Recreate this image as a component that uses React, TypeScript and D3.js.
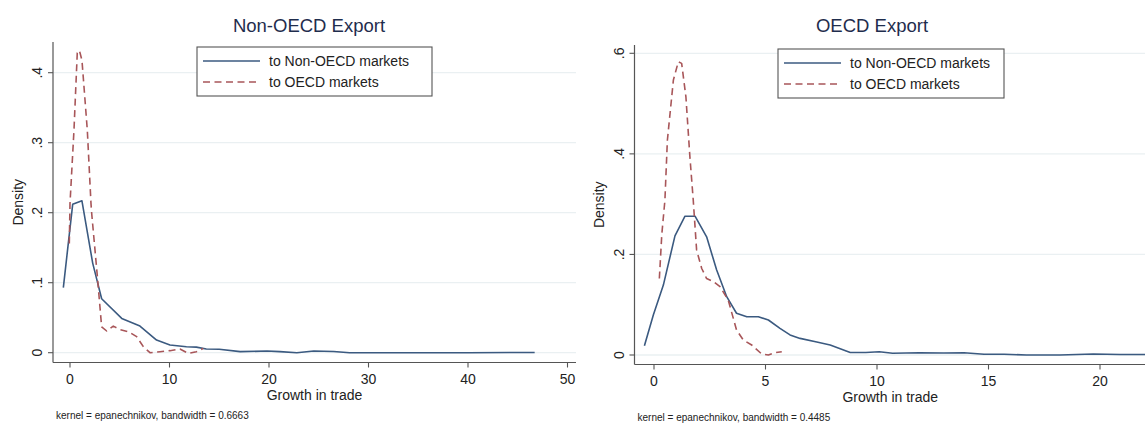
import React from "react";
import * as d3 from "d3";

// ---------- Data ----------
const leftNonOecdX = [-0.67, 0.27, 1.2, 2.28, 3.18, 5.2, 7.03, 8.7, 10.05, 11.7, 12.7, 13.7, 15, 17.1, 19.8, 21.1, 22.8, 24.5, 26.5, 28.1, 35, 40, 46.7];
const leftNonOecdY = [0.093, 0.212, 0.217, 0.128, 0.077, 0.049, 0.038, 0.018, 0.011, 0.0086, 0.008, 0.0053, 0.005, 0.0015, 0.0024, 0.0015, 0.0, 0.0024, 0.0017, 0.0, 0.0, 0.0, 0.0003];
const leftOecdX = [-0.07, 0.0, 0.4, 0.73, 0.94, 1.2, 1.74, 2.11, 2.18, 2.75, 3.18, 3.69, 4.35, 5.03, 5.86, 6.7, 7.37, 8.04, 9.05, 10.05, 11.05, 11.9, 12.7, 13.4];
const leftOecdY = [0.156, 0.213, 0.318, 0.428, 0.432, 0.418, 0.318, 0.213, 0.199, 0.109, 0.037, 0.031, 0.038, 0.033, 0.03, 0.023, 0.0086, 0.0, 0.0014, 0.0029, 0.0053, -0.001, 0.0014, 0.0062];

const rightNonOecdX = [-0.43, -0.03, 0.42, 0.94, 1.39, 1.84, 2.36, 2.81, 3.26, 3.7, 4.16, 4.68, 5.13, 5.65, 6.1, 6.55, 7.3, 7.9, 8.8, 9.5, 10.1, 10.7, 11.9, 13.0, 13.9, 14.8, 15.7, 16.7, 18.2, 19.7, 20.9, 22.0, 23.0];
const rightNonOecdY = [0.0185, 0.0795, 0.139, 0.237, 0.276, 0.276, 0.235, 0.169, 0.116, 0.083, 0.076, 0.076, 0.0696, 0.053, 0.04, 0.033, 0.026, 0.02, 0.005, 0.005, 0.0066, 0.0034, 0.0046, 0.004, 0.0046, 0.0014, 0.0014, 0.0, 0.0, 0.002, 0.001, 0.001, 0.001];
const rightOecdX = [0.24, 0.35, 0.49, 0.6, 0.87, 1.09, 1.24, 1.43, 1.61, 1.76, 1.91, 2.14, 2.36, 2.66, 2.96, 3.33, 3.7, 4.0, 4.38, 4.83, 5.13, 5.43, 5.73];
const rightOecdY = [0.152, 0.24, 0.308, 0.427, 0.547, 0.583, 0.58, 0.514, 0.394, 0.308, 0.209, 0.172, 0.152, 0.146, 0.136, 0.109, 0.05, 0.03, 0.02, 0.002, 0.0, 0.0046, 0.0066];

const leftXTicks = [0, 10, 20, 30, 40, 50];
const leftYTicks = [0, 0.1, 0.2, 0.3, 0.4];
const leftYTickLabels = ["0", ".1", ".2", ".3", ".4"];
const rightXTicks = [0, 5, 10, 15, 20];
const rightYTicks = [0, 0.2, 0.4, 0.6];
const rightYTickLabels = ["0", ".2", ".4", ".6"];

const legendLabels = ["to Non-OECD markets", "to OECD markets"];
const titles = ["Non-OECD Export", "OECD Export"];
const notes = ["kernel = epanechnikov, bandwidth = 0.6663", "kernel = epanechnikov, bandwidth = 0.4485"];

const BLUE = "#3b5a80";
const RED = "#a85659";
const FONT = "'Liberation Sans', Arial, Helvetica, sans-serif";

type PanelProps = {
  id: string;
  title: string;
  titleX: number;
  axisLeft: number;
  axisRight: number;
  axisTop: number;
  axisBottom: number;
  xDomain: [number, number];
  xRange: [number, number];
  yDomain: [number, number];
  yRange: [number, number];
  xTicks: number[];
  yTicks: number[];
  yTickLabels: string[];
  solidX: number[];
  solidY: number[];
  dashX: number[];
  dashY: number[];
  legend: { x: number; y: number; w: number; h: number };
  note: string;
  densityX: number;
};

function Panel(p: PanelProps) {
  const x = d3.scaleLinear().domain(p.xDomain).range(p.xRange);
  const y = d3.scaleLinear().domain(p.yDomain).range(p.yRange);
  const line = d3
    .line<[number, number]>()
    .x((d) => x(d[0]))
    .y((d) => y(d[1]));
  const solid = line(p.solidX.map((v, i) => [v, p.solidY[i]] as [number, number])) || "";
  const dash = line(p.dashX.map((v, i) => [v, p.dashY[i]] as [number, number])) || "";
  const midY = (p.axisTop + p.axisBottom) / 2;
  const midX = (p.axisLeft + p.axisRight) / 2;
  const clipId = `clip-${p.id}`;
  return (
    <g fontFamily={FONT}>
      <defs>
        <clipPath id={clipId}>
          <rect x={p.axisLeft} y={p.axisTop - 20} width={p.axisRight - p.axisLeft} height={p.axisBottom - p.axisTop + 20} />
        </clipPath>
      </defs>
      <text x={p.titleX} y={32} textAnchor="middle" fontSize={18.5} fill="#1f2d4d">
        {p.title}
      </text>
      {/* gridlines */}
      {p.yTicks.map((t) => (
        <line key={`g${t}`} x1={p.axisLeft} x2={p.axisRight} y1={y(t)} y2={y(t)} stroke="#eaf0f2" strokeWidth={1.3} />
      ))}
      {/* lines */}
      <g clipPath={`url(#${clipId})`}>
        <path d={solid} fill="none" stroke={BLUE} strokeWidth={1.6} strokeLinejoin="round" />
        <path d={dash} fill="none" stroke={RED} strokeWidth={1.6} strokeDasharray="7,4.5" strokeLinejoin="round" />
      </g>
      {/* y axis */}
      <line x1={p.axisLeft} x2={p.axisLeft} y1={p.axisTop} y2={p.axisBottom} stroke="#555" strokeWidth={1.2} />
      {p.yTicks.map((t, i) => (
        <g key={`y${t}`}>
          <line x1={p.axisLeft - 5} x2={p.axisLeft} y1={y(t)} y2={y(t)} stroke="#555" strokeWidth={1.1} />
          <text
            transform={`translate(${p.axisLeft - 11},${y(t)}) rotate(-90)`}
            textAnchor="middle"
            fontSize={14}
            fill="#222"
          >
            {p.yTickLabels[i]}
          </text>
        </g>
      ))}
      <text transform={`translate(${p.densityX},${midY}) rotate(-90)`} textAnchor="middle" fontSize={14} fill="#222">
        Density
      </text>
      {/* x axis */}
      <line x1={p.axisLeft} x2={p.axisRight} y1={p.axisBottom} y2={p.axisBottom} stroke="#555" strokeWidth={1.2} />
      {p.xTicks.map((t) => (
        <g key={`x${t}`}>
          <line x1={x(t)} x2={x(t)} y1={p.axisBottom} y2={p.axisBottom + 5} stroke="#555" strokeWidth={1.1} />
          <text x={x(t)} y={p.axisBottom + 21} textAnchor="middle" fontSize={14} fill="#222">
            {t}
          </text>
        </g>
      ))}
      <text x={midX} y={p.axisBottom + 37} textAnchor="middle" fontSize={14} fill="#222">
        Growth in trade
      </text>
      <text x={p.axisLeft + 3} y={p.axisBottom + 56} fontSize={10} fill="#222">
        {p.note}
      </text>
      {/* legend */}
      <rect x={p.legend.x} y={p.legend.y} width={p.legend.w} height={p.legend.h} fill="#fff" stroke="#555" strokeWidth={1.1} />
      <line x1={p.legend.x + 6} x2={p.legend.x + 63} y1={p.legend.y + 14} y2={p.legend.y + 14} stroke={BLUE} strokeWidth={1.6} />
      <line x1={p.legend.x + 6} x2={p.legend.x + 63} y1={p.legend.y + 35} y2={p.legend.y + 35} stroke={RED} strokeWidth={1.6} strokeDasharray="7,4.5" />
      <text x={p.legend.x + 72} y={p.legend.y + 19} fontSize={14} fill="#222">
        {legendLabels[0]}
      </text>
      <text x={p.legend.x + 72} y={p.legend.y + 40} fontSize={14} fill="#222">
        {legendLabels[1]}
      </text>
    </g>
  );
}

export default function App() {
  return (
    <svg
      width={1145}
      height={423}
      style={{ position: "absolute", left: 0, top: 0, background: "#fff" }}
    >
      <rect width={1145} height={423} fill="#fff" />
      <Panel
        id="left"
        title={titles[0]}
        titleX={309}
        axisLeft={53}
        axisRight={576}
        axisTop={42}
        axisBottom={362.5}
        xDomain={[0, 50]}
        xRange={[70, 567.5]}
        yDomain={[0, 0.4]}
        yRange={[352.7, 72.7]}
        xTicks={leftXTicks}
        yTicks={leftYTicks}
        yTickLabels={leftYTickLabels}
        solidX={leftNonOecdX}
        solidY={leftNonOecdY}
        dashX={leftOecdX}
        dashY={leftOecdY}
        legend={{ x: 197, y: 47, w: 235, h: 49 }}
        note={notes[0]}
        densityX={23}
      />
      <Panel
        id="right"
        title={titles[1]}
        titleX={872}
        axisLeft={634.5}
        axisRight={1146}
        axisTop={45}
        axisBottom={364.5}
        xDomain={[0, 20]}
        xRange={[654, 1100]}
        yDomain={[0, 0.6]}
        yRange={[355, 53.3]}
        xTicks={rightXTicks}
        yTicks={rightYTicks}
        yTickLabels={rightYTickLabels}
        solidX={rightNonOecdX}
        solidY={rightNonOecdY}
        dashX={rightOecdX}
        dashY={rightOecdY}
        legend={{ x: 778, y: 49, w: 226, h: 49 }}
        note={notes[1]}
        densityX={604}
      />
    </svg>
  );
}
